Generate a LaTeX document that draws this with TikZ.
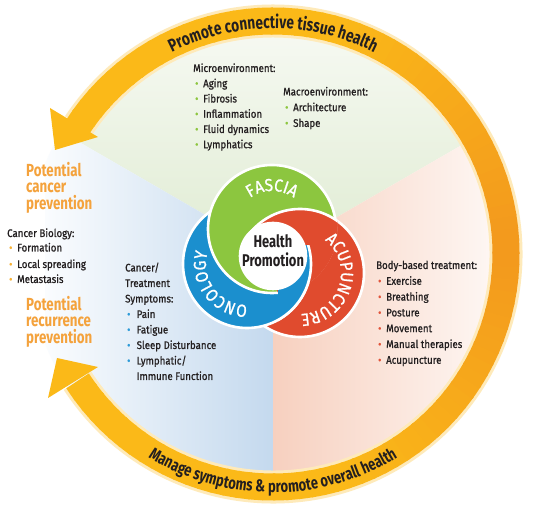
\documentclass[tikz,border=0pt]{standalone}
\usepackage{fontspec}
\setmainfont{Fira Sans}[FakeStretch=0.88, AutoFakeBold=0.9]
\newfontfamily\cond{Fira Sans}[FakeStretch=0.76]
\usetikzlibrary{decorations.text}
\definecolor{txt}{HTML}{231F20}
\definecolor{gcol}{HTML}{8CC63F}
\definecolor{bcol}{HTML}{1B8FCE}
\definecolor{rcol}{HTML}{E04B2E}
\definecolor{ringyl}{HTML}{FBB918}
\definecolor{ringor}{HTML}{F39A1D}
\definecolor{ortxt}{HTML}{F4A23C}
\definecolor{gbul}{HTML}{8DC63F}
\definecolor{obul}{HTML}{F8B133}
\definecolor{bbul}{HTML}{2C9AD8}
\definecolor{rbul}{HTML}{E2553B}
\definecolor{gsect}{HTML}{E0ECD3}
\definecolor{bsect}{HTML}{C4D9EE}
\definecolor{rsect}{HTML}{F7D0BF}
\definecolor{gsectl}{HTML}{F6F9F2}
\definecolor{bsectl}{HTML}{FAFCFE}
\definecolor{rsectl}{HTML}{FEF8F5}
\newcommand\blt[2][10]{\makebox[#1pt][l]{\hspace{2pt}\textcolor{#2}{\fontsize{11}{11}\selectfont •}}}
\begin{document}
\begin{tikzpicture}[x=1pt,y=1pt,
  every node/.style={inner sep=0pt, text=txt, font=\bfseries\fontsize{11}{13}\selectfont},
  ln/.style={anchor=base west},
  pot/.style={anchor=base west, text=ortxt, font=\cond\bfseries\fontsize{17.5}{18}\selectfont},
  disc/.style={draw=white, line width=2.6},
  lbl/.style={decorate, decoration={text along path, text align=center,
     text={|\bfseries\fontsize{17.5}{18}\selectfont\color{white}|#1}}}]
\useasboundingbox (0,0) rectangle (534,510);
\fill[white] (0,0) rectangle (534,510);
\coordinate (C) at (273,256);
\coordinate (T) at (273,254);
% sectors
\begin{scope}
  \clip (C) -- ++(30:245) arc[start angle=30,end angle=150,radius=245] -- cycle;
  \shade[top color=gsectl, bottom color=gsect] (0,256) rectangle (534,480);
\end{scope}
\begin{scope}
  \clip (C) -- ++(150:245) arc[start angle=150,end angle=270,radius=245] -- cycle;
  \shade[left color=bsectl, right color=bsect] (45,0) rectangle (273,400);
\end{scope}
\begin{scope}
  \clip (C) -- ++(270:245) arc[start angle=270,end angle=390,radius=245] -- cycle;
  \shade[left color=rsect, right color=rsectl] (273,0) rectangle (500,400);
\end{scope}
% ring glow
\draw[line width=33, ringyl!30] (C) ++(-147:233) arc[start angle=-147, end angle=146.5, radius=233];
% ring
\foreach \ang in {-147,-144,...,144}{
  \pgfmathsetmacro\pc{max(0,min(100,100-(abs(\ang)-4)*100/70))}
  \draw[line width=27, color=ringor!\pc!ringyl] (C) ++(\ang:233) arc[start angle=\ang, end angle=\ang+3.6, radius=233];
}
% arrowheads
\fill[ringyl] (50,402) -- (55,360) -- (98,373) -- cycle;
\fill[ringyl] (48,112) -- (57,152) -- (98,143) -- cycle;
% ring texts
\path[decorate, decoration={text along path, text align=center,
  text={|\cond\bfseries\fontsize{18}{18}\selectfont\color{txt}|Promote connective tissue health}}]
  (C) ++(128:225.5) arc[start angle=128, end angle=52, radius=225.5];
\path[decorate, decoration={text along path, text align=center,
  text={|\cond\bfseries\fontsize{17}{18}\selectfont\color{txt}|Manage symptoms {\&} promote overall health}}]
  (C) ++(222:238.5) arc[start angle=222, end angle=318, radius=238.5];
% trefoil
\coordinate (G) at (272,281);
\coordinate (B) at (247,246);
\coordinate (R) at (300,237);
\filldraw[disc, fill=rcol] (R) circle (64);
\filldraw[disc, fill=bcol] (B) circle (64);
\filldraw[disc, fill=gcol] (G) circle (64);
\begin{scope}
  \clip (G) circle (65.6);
  \clip[shift={(T)}, rotate=31.9] (-15,-200) rectangle (200,200);
  \filldraw[disc, fill=rcol] (R) circle (64);
\end{scope}
\begin{scope}
  \clip (R) circle (65.6);
  \clip (T) ++(5,-200) rectangle ++(200,210);
  \filldraw[disc, fill=bcol] (B) circle (64);
\end{scope}
\filldraw[disc, fill=white] (T) circle (33);
\path[lbl=FASCIA] (G) ++(150:38) arc[start angle=150, end angle=30, radius=38];
\path[lbl=ONCOLOGY] (B) ++(295:41) arc[start angle=295, end angle=139, radius=41];
\path[lbl=ACUPUNCTURE] (R) ++(62:41) arc[start angle=62, end angle=-98, radius=41];
\node[anchor=base, font=\cond\bfseries\fontsize{17}{18}\selectfont] (hp1) at (273,262) {Health};
\node[anchor=base, font=\cond\bfseries\fontsize{17}{18}\selectfont] (hp2) at (273,243.5) {Promotion};
% microenvironment
\node[ln] (mi0) at (193,438) {Microenvironment:};
\node[ln] (mi1) at (193,422.75) {\blt{gbul}Aging};
\node[ln] (mi2) at (193,407.5) {\blt{gbul}Fibrosis};
\node[ln] (mi3) at (193,392.25) {\blt{gbul}Inflammation};
\node[ln] (mi4) at (193,377) {\blt{gbul}Fluid dynamics};
\node[ln] (mi5) at (193,361.75) {\blt{gbul}Lymphatics};
% macroenvironment
\node[ln] (ma0) at (283,414.5) {Macroenvironment:};
\node[ln] (ma1) at (283,398.8) {\blt{gbul}Architecture};
\node[ln] (ma2) at (283,383.1) {\blt{gbul}Shape};
% left
\node[pot] (pc1) at (26,333.5) {Potential};
\node[pot] (pc2) at (26,317) {cancer};
\node[pot] (pc3) at (26,300.5) {prevention};
\node[ln] (cb0) at (7,273) {Cancer Biology:};
\node[ln] (cb1) at (7,258.5) {\blt{obul}Formation};
\node[ln] (cb2) at (7,242) {\blt{obul}Local spreading};
\node[ln] (cb3) at (7,227) {\blt{obul}Metastasis};
\node[pot] (pr1) at (26,199.5) {Potential};
\node[pot] (pr2) at (26,183) {recurrence};
\node[pot] (pr3) at (26,166.5) {prevention};
% cancer / treatment
\node[ln] (ct0) at (125,238.5) {Cancer/};
\node[ln] (ct1) at (125,223) {Treatment};
\node[ln] (ct2) at (125,207.5) {Symptoms:};
\node[ln] (ct3) at (125,192) {\blt[11.5]{bbul}Pain};
\node[ln] (ct4) at (125,176.5) {\blt[11.5]{bbul}Fatigue};
\node[ln] (ct5) at (125,161) {\blt[11.5]{bbul}Sleep Disturbance};
\node[ln] (ct6) at (125,145.5) {\blt[11.5]{bbul}Lymphatic/};
\node[ln] (ct7) at (136.5,130) {Immune Function};
% body-based
\node[ln] (bb0) at (376,241) {Body-based treatment:};
\node[ln] (bb1) at (376,225.2) {\blt{rbul}Exercise};
\node[ln] (bb2) at (376,209.4) {\blt{rbul}Breathing};
\node[ln] (bb3) at (376,193.6) {\blt{rbul}Posture};
\node[ln] (bb4) at (376,177.8) {\blt{rbul}Movement};
\node[ln] (bb5) at (376,162) {\blt{rbul}Manual therapies};
\node[ln] (bb6) at (376,146.2) {\blt{rbul}Acupuncture};
\end{tikzpicture}
\end{document}
